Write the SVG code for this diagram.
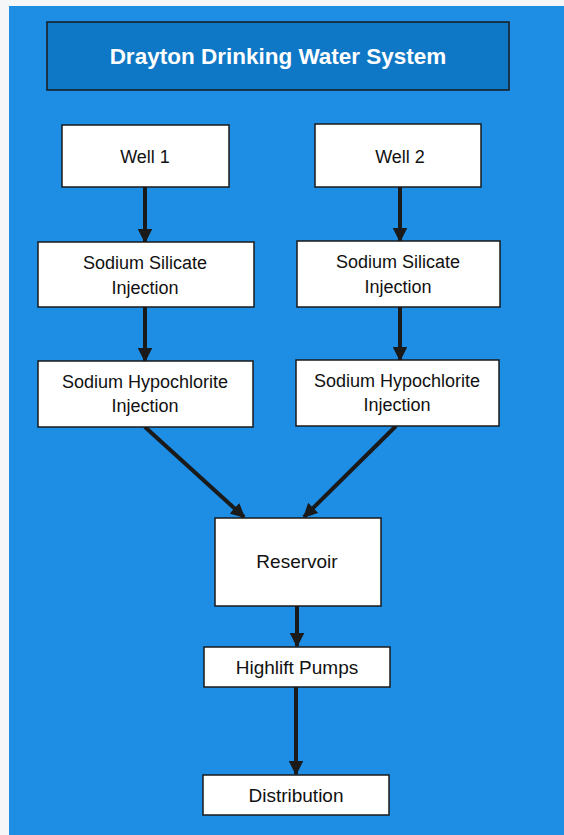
<svg xmlns="http://www.w3.org/2000/svg" width="564" height="835" viewBox="0 0 564 835">
<defs>
<style>
.node rect{fill:#ffffff;stroke:#1a1a1a;stroke-width:1.5}
.node text{font-family:"Liberation Sans",Arial,sans-serif;font-size:18px;fill:#111;text-anchor:middle}
.node text.lg{font-size:19px}
#connectors line{stroke:#1a1a1a;stroke-width:4;marker-end:url(#ah)}
</style>
<marker id="ah" viewBox="0 0 10 10" refX="9" refY="5" markerWidth="3.6" markerHeight="3.6" orient="auto" markerUnits="strokeWidth">
<path d="M0,0 L10,5 L0,10 z" fill="#1a1a1a"/>
</marker>
</defs>
<rect x="0" y="0" width="564" height="835" fill="#f4f6f8"/>
<rect x="9" y="6" width="555" height="829" fill="#1e8de4"/>
<g id="title">
<rect x="47" y="22" width="462" height="68" fill="#0f78c6" stroke="#1a1a1a" stroke-width="1.5"/>
<text x="278" y="64" font-family="Liberation Sans,Arial,sans-serif" font-size="22.5" font-weight="bold" fill="#ffffff" text-anchor="middle">Drayton Drinking Water System</text>
</g>
<g id="connectors">
<line x1="145" y1="187" x2="145" y2="242"/>
<line x1="400" y1="187" x2="400" y2="241"/>
<line x1="145" y1="307" x2="145" y2="361"/>
<line x1="400" y1="307" x2="400" y2="360"/>
<line x1="145" y1="427" x2="244" y2="517"/>
<line x1="396" y1="426" x2="304" y2="517"/>
<line x1="297" y1="606" x2="297" y2="646"/>
<line x1="296" y1="687" x2="296" y2="774"/>
</g>
<g id="well1" class="node">
<rect x="62" y="125" width="167" height="62"/>
<text x="145" y="163">Well 1</text>
</g>
<g id="well2" class="node">
<rect x="315" y="124" width="166" height="63"/>
<text x="400" y="163">Well 2</text>
</g>
<g id="silicate1" class="node">
<rect x="38" y="242" width="216" height="65"/>
<text x="145" y="269">Sodium Silicate</text>
<text x="145" y="294">Injection</text>
</g>
<g id="silicate2" class="node">
<rect x="297" y="241" width="203" height="66"/>
<text x="398" y="268">Sodium Silicate</text>
<text x="398" y="293">Injection</text>
</g>
<g id="hypo1" class="node">
<rect x="38" y="361" width="215" height="66"/>
<text x="145" y="388">Sodium Hypochlorite</text>
<text x="145" y="412">Injection</text>
</g>
<g id="hypo2" class="node">
<rect x="296" y="360" width="203" height="66"/>
<text x="397" y="387">Sodium Hypochlorite</text>
<text x="397" y="411">Injection</text>
</g>
<g id="reservoir" class="node">
<rect x="215" y="518" width="166" height="88"/>
<text class="lg" x="297" y="568">Reservoir</text>
</g>
<g id="highlift" class="node">
<rect x="204" y="647" width="186" height="40"/>
<text class="lg" x="297" y="674">Highlift Pumps</text>
</g>
<g id="distribution" class="node">
<rect x="203" y="775" width="186" height="40"/>
<text class="lg" x="296" y="802">Distribution</text>
</g>
</svg>
